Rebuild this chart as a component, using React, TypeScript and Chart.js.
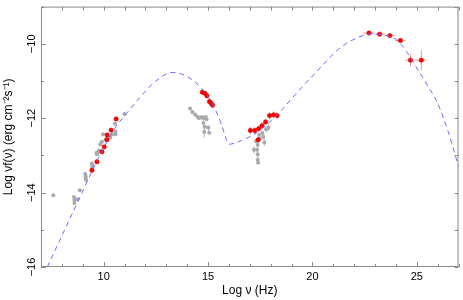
import React, { useEffect, useRef } from "react";
import { Chart, registerables } from "chart.js";
Chart.register(...registerables);

// Model SED curve (dashed)
const modelX = [7.3, 8.0, 8.5, 9.0, 9.5, 10.0, 10.5, 11.1, 11.8, 12.5, 13.3, 14.0, 14.7, 15.2, 15.6, 15.9, 16.0, 16.6, 17.3, 17.9, 18.5, 19.2, 20.2, 21.35, 22.15, 22.8, 23.4, 24.05, 24.5, 25.0, 25.5, 26.0, 26.5, 27.0];
const modelY = [-16, -15.16, -14.56, -13.96, -13.36, -12.8, -12.3, -11.87, -11.4, -11.0, -10.77, -10.88, -11.2, -11.6, -12.1, -12.6, -12.7, -12.6, -12.4, -12.13, -11.8, -11.35, -10.75, -10.1, -9.84, -9.73, -9.76, -9.9, -10.2, -10.65, -11.1, -11.6, -12.35, -13.3];

// Archival (gray) data
const grayX = [7.59, 8.58, 8.6, 8.6, 8.75, 8.86, 9.12, 9.14, 9.14, 9.16, 9.44, 9.46, 9.46, 9.66, 9.68, 9.73, 9.78, 9.84, 9.92, 9.97, 10.1, 10.32, 10.41, 10.57, 10.57, 10.54, 11.0,
  14.14, 14.25, 14.38, 14.5, 14.57, 14.7, 14.78, 14.89, 14.93, 14.78, 14.86, 15.02, 14.82, 15.06,
  17.9, 17.78, 17.6, 17.45, 17.65, 17.5, 17.7, 17.3, 17.38, 17.2, 17.35, 17.38, 17.38, 17.4];
const grayY = [-14.07, -14.12, -14.2, -14.28, -14.18, -13.94, -13.5, -13.56, -13.62, -13.66, -13.22, -13.28, -13.33, -12.93, -12.97, -12.91, -12.87, -12.7, -12.63, -12.43, -12.57, -12.52, -12.43, -12.36, -12.43, -12.15, -11.89,
  -11.74, -11.83, -11.9, -11.96, -12.0, -11.97, -12.0, -11.97, -12.03, -12.13, -12.23, -12.26, -12.37, -12.39,
  -12.25, -12.3, -12.4, -12.45, -12.5, -12.55, -12.65, -12.62, -12.72, -12.85, -12.85, -12.97, -13.12, -13.2];
const grayErrY = [0, 0, 0, 0, 0, 0, 0, 0, 0, 0, 0, 0, 0, 0, 0, 0, 0, 0, 0, 0, 0, 0, 0, 0.06, 0, 0, 0,
  0, 0, 0, 0, 0, 0, 0, 0, 0, 0.15, 0, 0.08, 0.15, 0,
  0.1, 0.08, 0, 0, 0.08, 0, 0.1, 0, 0.1, 0.1, 0, 0.1, 0.1, 0];

// New (red) data
const redX = [9.44, 9.68, 9.92, 10.03, 10.16, 10.17, 10.36, 10.6,
  14.73, 14.85, 14.95, 15.07, 15.15, 15.22,
  17.03, 17.24, 17.43, 17.59, 17.76, 17.95, 18.14, 18.31, 17.4,
  22.71, 23.22, 23.71, 24.22, 24.7, 25.22];
const redY = [-13.4, -13.17, -12.9, -12.77, -12.58, -12.45, -12.32, -12.02,
  -11.3, -11.33, -11.4, -11.55, -11.6, -11.65,
  -12.33, -12.33, -12.28, -12.2, -12.1, -11.93, -11.91, -11.93, -12.58,
  -9.71, -9.74, -9.78, -9.91, -10.44, -10.44];
const redErrX = [0, 0, 0, 0, 0, 0, 0, 0,
  0, 0, 0, 0, 0, 0,
  0.12, 0.1, 0.1, 0.1, 0.1, 0.1, 0.1, 0.1, 0,
  0.25, 0.25, 0.25, 0.25, 0.25, 0.26];
const redErrY = [0, 0, 0, 0, 0, 0, 0, 0,
  0, 0, 0, 0, 0, 0,
  0.09, 0.09, 0.09, 0.09, 0.09, 0.09, 0.09, 0.09, 0.09,
  0.03, 0.03, 0.03, 0.04, 0.16, 0.27];

const xLabelValues = [10, 15, 20, 25];
const yLabelValues = [-16, -14, -12, -10];

const errorBarPlugin = {
  id: "errorBars",
  beforeDatasetsDraw(chart: any) {
    const { ctx, scales } = chart;
    const xs = scales.x, ys = scales.y;
    chart.data.datasets.forEach((ds: any) => {
      if (!ds.errX && !ds.errY) return;
      ctx.save();
      ctx.strokeStyle = ds.errColor;
      ctx.lineWidth = 1;
      ctx.beginPath();
      ds.data.forEach((p: any, i: number) => {
        const px = xs.getPixelForValue(p.x);
        const py = ys.getPixelForValue(p.y);
        const ex = ds.errX ? ds.errX[i] : 0;
        const ey = ds.errY ? ds.errY[i] : 0;
        if (ex > 0) {
          ctx.moveTo(xs.getPixelForValue(p.x - ex), py);
          ctx.lineTo(xs.getPixelForValue(p.x + ex), py);
        }
        if (ey > 0) {
          ctx.moveTo(px, ys.getPixelForValue(p.y - ey));
          ctx.lineTo(px, ys.getPixelForValue(p.y + ey));
        }
      });
      ctx.stroke();
      ctx.restore();
    });
  },
};

const framePlugin = {
  id: "frameTicks",
  afterDraw(chart: any) {
    const { ctx, chartArea, scales } = chart;
    const { left, right, top, bottom } = chartArea;
    ctx.save();
    ctx.strokeStyle = "#8a8a8a";
    ctx.lineWidth = 1;
    ctx.strokeRect(left + 0.5, top + 0.5, right - left - 1, bottom - top - 1);
    ctx.beginPath();
    scales.x.ticks.forEach((t: any) => {
      const px = Math.round(scales.x.getPixelForValue(t.value)) + 0.5;
      const major = xLabelValues.includes(t.value);
      ctx.moveTo(px, bottom);
      ctx.lineTo(px, bottom - (major ? 5 : 3));
      ctx.moveTo(px, top);
      ctx.lineTo(px, top + 4);
    });
    scales.y.ticks.forEach((t: any) => {
      const py = Math.round(scales.y.getPixelForValue(t.value)) + 0.5;
      const major = yLabelValues.includes(t.value);
      ctx.moveTo(left, py);
      ctx.lineTo(left + (major ? 5 : 3), py);
      ctx.moveTo(right, py);
      ctx.lineTo(right - 4, py);
    });
    ctx.stroke();
    ctx.restore();
  },
};

export default function App() {
  const ref = useRef<HTMLCanvasElement | null>(null);
  useEffect(() => {
    if (!ref.current) return;
    const chart = new Chart(ref.current, {
      type: "scatter",
      data: {
        datasets: [
          {
            type: "line",
            label: "model",
            data: modelX.map((x, i) => ({ x, y: modelY[i] })),
            borderColor: "#6b6bff",
            borderWidth: 1,
            borderDash: [5, 4],
            pointRadius: 0,
            fill: false,
            cubicInterpolationMode: "monotone",
            order: 0,
          } as any,
          {
            label: "new",
            data: redX.map((x, i) => ({ x, y: redY[i] })),
            backgroundColor: "#ff0000",
            borderColor: "#c80000",
            borderWidth: 0.5,
            pointRadius: 2.2,
            errX: redErrX,
            errY: redErrY,
            errColor: "#ff8c8c",
            order: 1,
          } as any,
          {
            label: "archival",
            data: grayX.map((x, i) => ({ x, y: grayY[i] })),
            backgroundColor: "#a9a9a9",
            borderColor: "#a9a9a9",
            borderWidth: 0,
            pointRadius: 2,
            errY: grayErrY,
            errColor: "#bdbdbd",
            order: 2,
          } as any,
        ],
      },
      options: {
        animation: false,
        responsive: false,
        devicePixelRatio: 1,
        layout: { padding: { left: 0, right: 1, top: 0, bottom: 0 } },
        plugins: { legend: { display: false }, tooltip: { enabled: false } },
        scales: {
          x: {
            type: "linear",
            min: 7,
            max: 27,
            grid: { display: false, drawTicks: false },
            border: { display: false },
            ticks: {
              stepSize: 1,
              autoSkip: false,
              maxRotation: 0,
              minRotation: 0,
              padding: 3,
              color: "#000",
              font: { family: "'Liberation Sans', Arial, sans-serif", size: 11 },
              callback: (v: any) => (xLabelValues.includes(v) ? String(v) : ""),
            },
            title: {
              display: true,
              text: "Log ν (Hz)",
              color: "#000",
              font: { family: "'Liberation Sans', Arial, sans-serif", size: 12 },
              padding: { top: 0, bottom: 2 },
            },
            afterFit: (s: any) => {
              s.height = 33;
            },
          },
          y: {
            type: "linear",
            min: -16,
            max: -9,
            grid: { display: false, drawTicks: false },
            border: { display: false },
            ticks: {
              stepSize: 1,
              autoSkip: false,
              minRotation: 90,
              maxRotation: 90,
              crossAlign: "center",
              padding: 0,
              color: "#000",
              font: { family: "'Liberation Sans', Arial, sans-serif", size: 11 },
              callback: (v: any) => (yLabelValues.includes(v) ? "\u2212" + Math.abs(v) : ""),
            },
            title: {
              display: true,
              text: "Log νf(ν) (erg cm⁻²s⁻¹)",
              color: "#000",
              font: { family: "'Liberation Sans', Arial, sans-serif", size: 12 },
              padding: { top: 1, bottom: 0 },
            },
            afterFit: (s: any) => {
              s.width = 41;
            },
          },
        },
      },
      plugins: [errorBarPlugin, framePlugin],
    });
    return () => chart.destroy();
  }, []);
  return (
    <div style={{ position: "fixed", left: 0, top: 0, width: 463, height: 300, background: "#fff" }}>
      <canvas ref={ref} width={463} height={300} style={{ display: "block" }} />
    </div>
  );
}
